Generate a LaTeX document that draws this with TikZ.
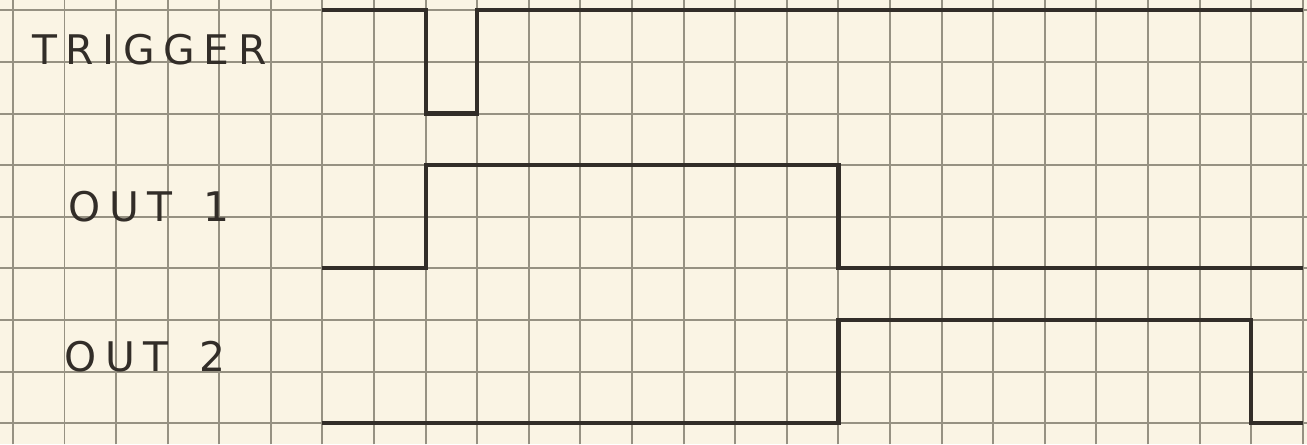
\documentclass[tikz,border=0pt]{standalone}
\usepackage{fontspec}
\setmainfont{DejaVu Sans}[LetterSpace=21]
\definecolor{paper}{RGB}{250,244,228}
\definecolor{gridink}{RGB}{150,145,130}
\definecolor{pen}{RGB}{50,45,40}

\begin{document}
\begin{tikzpicture}[
gridline/.style={draw=gridink, line width=1.1pt},
signal/.style={draw=pen, line width=2.3pt, line join=miter},
label/.style={anchor=west, text=pen, font=\fontsize{22.5}{22.5}\selectfont, inner sep=0pt}
]
     \fill [paper] (-0.25,-0.41) rectangle (25.08,8.2);
     \useasboundingbox (-0.25,-0.41) rectangle (25.08,8.2);
     \draw [gridline] (-0.25,-0.41) grid (25.08,8.2);

     \node [label] (trig) at (0.37,7.23) {TRIGGER};
     \node [label] (out1) at (1.07,4.2) {OUT\hspace{0.75em}1};
     \node [label] (out2) at (1.0,1.28) {OUT\hspace{0.75em}2};

    \draw [signal] (6,8) -- (8,8) -- (8,6) -- (9,6) -- (9,8) -- (25,8);
    \draw [signal] (6,3) -- (8,3) -- (8,5) -- (16,5) -- (16,3) -- (25,3);
    \draw [signal] (6,0) -- (16,0) -- (16,2) -- (24,2) -- (24,0) -- (25,0);
    \end{tikzpicture}
\end{document}
